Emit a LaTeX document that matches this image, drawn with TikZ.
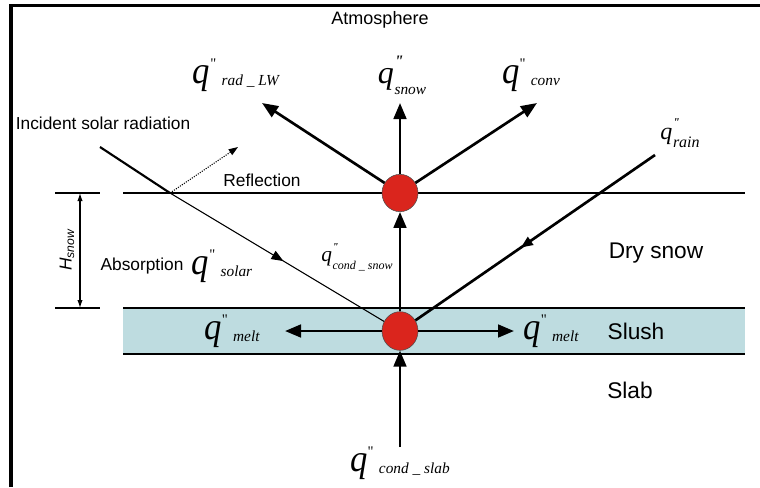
\documentclass[tikz,border=0pt]{standalone}
\usepackage{fontspec}
\setmainfont{Liberation Sans}
\newfontfamily\qfont{Liberation Serif}
\usepackage{graphicx}
\usetikzlibrary{arrows.meta,positioning,shapes.geometric,decorations.markings}
\definecolor{slushblue}{RGB}{190,220,224}
\definecolor{hotred}{RGB}{218,37,29}

% q'' with a gap before the index
\newcommand{\qsep}[1]{{\qfont\itshape\fontsize{26}{26}\selectfont\scalebox{1}[1.1]{q}%
  \raisebox{0.42em}{\fontsize{11}{11}\selectfont\upshape\symbol{"22}}}\hspace{4pt}%
  \raisebox{-2pt}{\qfont\itshape\fontsize{11.5}{11.5}\selectfont #1}}
% q'' with the index set close: q size, index size, index
\newcommand{\qtight}[3]{{\qfont\itshape\fontsize{#1}{#1}\selectfont q%
  \rlap{\kern0.5pt\raisebox{0.54em}{\bfseries\fontsize{0.5\dimexpr#1pt\relax}{1}\selectfont\symbol{"22}}}%
  \kern0.5pt\raisebox{-0.34em}{\fontsize{#2}{#2}\selectfont #3}}}

\begin{document}
\begin{tikzpicture}[x={(0.75pt,0)}, y={(0,-0.75pt)},
  lab/.style={font=\fontsize{13}{13}\selectfont, inner sep=1pt},
  big/.style={font=\fontsize{17}{17}\selectfont, inner sep=1pt},
  qlab/.style={inner sep=1pt},
  hot/.style={ellipse, draw=black!70, fill=hotred, inner sep=0pt,
    minimum width=27pt, minimum height=29pt},
  flow/.style={line width=2pt, -{Triangle[length=12pt,width=9.5pt]}},
  ray/.style={line width=0.8pt},
  midtip/.style={postaction={decorate}, decoration={markings,
    mark=at position #1 with {\arrow{Triangle[length=9pt,width=7pt]}}}}]
\useasboundingbox (0,0) rectangle (760,487);
\draw[line width=2.3pt] (11,487) -- (11,5.5) -- (760,5.5);

% layers
\fill[slushblue] (123,308) rectangle (745,354);
\draw[ray] (123,308) -- (745,308);
\draw[line width=2.2pt] (123,354) -- (745,354);
\draw[ray] (123,193) -- (745,193);
\draw[ray] (55,193) -- (100,193);
\draw[ray] (55,308) -- (100,308);
\draw[ray, {Latex[length=6pt,width=4pt]}-{Latex[length=6pt,width=4pt]}] (80,193) -- (80,308);
\node[rotate=90, font=\fontsize{13}{13}\selectfont\itshape] (hsnow) at (67,250) {H\textsubscript{snow}};

% nodes
\node[hot, minimum height=28pt] (top) at (400,193) {};
\node[hot] (bot) at (400,331) {};
\coordinate (tipL) at (262,103);
\coordinate (tipU) at (400,103);
\coordinate (tipR) at (537,103);
\coordinate (rain) at (655,155);
\coordinate (meltL) at (285,331);
\coordinate (meltR) at (514,331);
\coordinate (slab) at (400,447);
\coordinate (sun) at (100,147);
\coordinate (hit) at (170,193);
\coordinate (refl) at (238,147);

% fluxes
\draw[flow] (top) -- (tipL);
\draw[flow] (top) -- (tipU);
\draw[flow] (top) -- (tipR);
\draw[flow] (bot) -- (top);
\draw[flow] (bot) -- (meltL);
\draw[flow] (bot) -- (meltR);
\draw[flow] (slab) -- (bot);
\draw[line width=2pt, midtip=0.56] (rain) -- (bot);
\draw[line width=1.6pt] (sun) -- (hit);
\draw[ray, midtip=0.53] (hit) -- (bot);
\draw[ray, densely dotted, -{Triangle[length=7pt,width=5pt]}] (hit) -- (refl);

% labels
\node[big, font=\fontsize{13.5}{13.5}\selectfont] (atm) at (380,20) {Atmosphere};
\node[lab] (inc) at (103,123) {Incident solar radiation};
\node[lab] (reflect) at (262,180) {Reflection};
\node[lab] (absorb) at (142,266) {Absorption};
\node[qlab, right=4pt of absorb] (qsolar) {\qsep{solar}};
\node[big] (dry) at (656,253) {Dry snow};
\node[big] (slush) at (636,331) {Slush};
\node[big] (slabtxt) at (630,390) {Slab};
\node[qlab] (qrad) at (236,75) {\qsep{rad \_ LW}};
\node[qlab] (qsnow) at (402,75) {\qtight{24}{11.5}{snow}};
\node[qlab] (qconv) at (531,75) {\qsep{conv}};
\node[qlab] (qrain) at (680,133) {\qtight{18}{12}{rain}};
\node[qlab] (qcsnow) at (357,257) {\qtight{16}{9}{cond \_ snow}};
\node[qlab] (qmeltL) at (232,331) {\qsep{melt}};
\node[qlab] (qmeltR) at (551,331) {\qsep{melt}};
\node[qlab] (qcslab) at (400,463) {\qsep{cond \_ slab}};
\end{tikzpicture}
\end{document}
